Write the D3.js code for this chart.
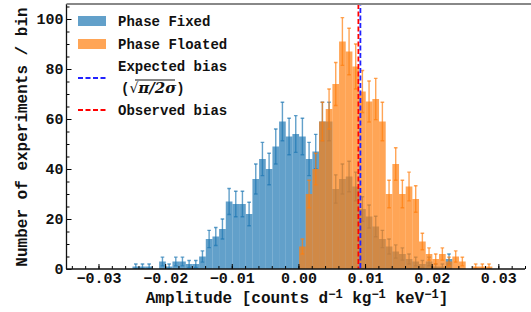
<!DOCTYPE html>
<html>
<head>
<meta charset="utf-8">
<script src="https://cdn.jsdelivr.net/npm/d3@7"></script>
<style>
  body { margin: 0; background: #fff; }
  text { font-family: "Liberation Mono", "DejaVu Sans Mono", monospace; font-weight: bold; fill: #111; }
</style>
</head>
<body>
<div id="chart"></div>
<script>
// histogram bins, width 0.001
var binWidth = 0.001;
var fixedStart = -0.0249;
var fixedCounts = [1, 1, 1, 0, 3, 1, 3, 3, 2, 2, 5, 12, 13, 16, 27, 26, 26, 22, 36, 44, 40, 49, 59, 53, 54,
    53, 44, 47, 59, 59, 32, 36, 37, 33, 24, 21, 17, 12, 9, 7, 6, 4, 3, 2, 3, 1, 1, 4];
var floatedStart = 0.0001;
var floatedCounts = [9, 30, 40, 59, 64, 74, 91, 87, 81, 71, 67, 68, 59, 30, 42, 30, 33, 28, 11, 6, 4, 6, 3, 5, 3,
    0, 1, 1, 1];

var expectedBias = 0.0093;
var observedBias = 0.0090;

var xTicks = [-0.03, -0.02, -0.01, 0.00, 0.01, 0.02, 0.03];
var yTicks = [0, 20, 40, 60, 80, 100];

var width = 531, height = 312;
var plotLeft = 66.5, plotRight = 525, plotTop = 4, plotBottom = 269;

var blue = "#1f77b4", orange = "#ff7f0e";

var svg = d3.select("#chart").append("svg")
    .attr("width", width)
    .attr("height", height);

var x = d3.scaleLinear().domain([-0.0348, 0.034]).range([plotLeft, plotRight]);
var y = d3.scaleLinear().domain([0, 106]).range([plotBottom, plotTop]);

svg.append("clipPath").attr("id", "plot")
    .append("rect").attr("x", plotLeft).attr("y", plotTop)
    .attr("width", plotRight - plotLeft).attr("height", plotBottom - plotTop);

var g = svg.append("g").attr("clip-path", "url(#plot)");

function hist(counts, start, color) {
    var bins = counts.map(function(c, i) {
        return { x0: start + i * binWidth, x1: start + (i + 1) * binWidth, n: c };
    }).filter(function(b) { return b.n > 0; });

    g.append("g").selectAll("rect")
        .data(bins).enter().append("rect")
        .attr("x", function(b) { return x(b.x0); })
        .attr("width", function(b) { return x(b.x1) - x(b.x0); })
        .attr("y", function(b) { return y(b.n); })
        .attr("height", function(b) { return y(0) - y(b.n); })
        .attr("fill", color)
        .attr("fill-opacity", 0.7);

    var eb = g.append("g")
        .attr("stroke", color)
        .attr("stroke-opacity", 0.7)
        .attr("stroke-width", 1.4);
    bins.forEach(function(b) {
        var cx = x((b.x0 + b.x1) / 2);
        var e = Math.sqrt(b.n);
        eb.append("line").attr("x1", cx).attr("x2", cx).attr("y1", y(b.n - e)).attr("y2", y(b.n + e));
        eb.append("line").attr("x1", cx - 1.8).attr("x2", cx + 1.8).attr("y1", y(b.n - e)).attr("y2", y(b.n - e));
        eb.append("line").attr("x1", cx - 1.8).attr("x2", cx + 1.8).attr("y1", y(b.n + e)).attr("y2", y(b.n + e));
    });
}

hist(fixedCounts, fixedStart, blue);
hist(floatedCounts, floatedStart, orange);

// bias lines
g.append("line")
    .attr("x1", x(observedBias)).attr("x2", x(observedBias))
    .attr("y1", plotTop).attr("y2", plotBottom)
    .attr("stroke", "#ff0000").attr("stroke-width", 1.8).attr("stroke-dasharray", "5,2.5");
g.append("line")
    .attr("x1", x(expectedBias)).attr("x2", x(expectedBias))
    .attr("y1", plotTop).attr("y2", plotBottom)
    .attr("stroke", "#2222ff").attr("stroke-width", 1.8).attr("stroke-dasharray", "5,2.5")
    .attr("stroke-dashoffset", 3.5);

// axes
var xMinor = d3.range(-0.034, 0.0341, 0.002).map(function(v) { return +v.toFixed(3); });
var yMinor = d3.range(0, 106, 5);

svg.append("g").attr("transform", "translate(0," + plotBottom + ")")
    .call(d3.axisBottom(x).tickValues(xMinor).tickSize(-3).tickFormat(""))
    .call(function(a) { a.select(".domain").remove(); });
var xa = svg.append("g").attr("transform", "translate(0," + plotBottom + ")")
    .call(d3.axisBottom(x).tickValues(xTicks).tickSize(-5).tickPadding(3)
        .tickFormat(function(d) { return d3.format(".2f")(d).replace("-", "\u2212"); }));
xa.selectAll("text").style("font-size", "15px").style("fill", "#111");
xa.select(".domain").remove();

svg.append("g").attr("transform", "translate(" + plotLeft + ",0)")
    .call(d3.axisLeft(y).tickValues(yMinor).tickSize(-3).tickFormat(""))
    .call(function(a) { a.select(".domain").remove(); });
var ya = svg.append("g").attr("transform", "translate(" + plotLeft + ",0)")
    .call(d3.axisLeft(y).tickValues(yTicks).tickSize(-5).tickPadding(3));
ya.selectAll("text").style("font-size", "15px").style("fill", "#111");
ya.select(".domain").remove();

// spines
svg.append("line").attr("x1", plotLeft).attr("x2", plotRight).attr("y1", plotBottom).attr("y2", plotBottom)
    .attr("stroke", "#111").attr("stroke-width", 1.3);
svg.append("line").attr("x1", plotLeft).attr("x2", plotLeft).attr("y1", plotTop).attr("y2", plotBottom)
    .attr("stroke", "#111").attr("stroke-width", 1.3);
svg.append("line").attr("x1", plotLeft).attr("x2", width).attr("y1", plotTop).attr("y2", plotTop)
    .attr("stroke", "#888").attr("stroke-width", 2);

// axis labels
var xl = svg.append("text")
    .attr("x", 297).attr("y", 303)
    .attr("text-anchor", "middle")
    .style("font-size", "16px");
xl.append("tspan").text("Amplitude [counts d");
xl.append("tspan").attr("dy", -5).style("font-size", "12px").text("\u22121");
xl.append("tspan").attr("dy", 5).text(" kg");
xl.append("tspan").attr("dy", -5).style("font-size", "12px").text("\u22121");
xl.append("tspan").attr("dy", 5).text(" keV");
xl.append("tspan").attr("dy", -5).style("font-size", "12px").text("\u22121");
xl.append("tspan").attr("dy", 5).text("]");

svg.append("text")
    .attr("transform", "translate(27,137) rotate(-90)")
    .attr("text-anchor", "middle")
    .style("font-size", "16px")
    .text("Number of experiments / bin");

// legend
var lg = svg.append("g").attr("transform", "translate(78,0)");
var lx = 40;
lg.append("rect").attr("x", 0).attr("y", 16).attr("width", 28).attr("height", 10)
    .attr("fill", blue).attr("fill-opacity", 0.7);
lg.append("text").attr("x", lx).attr("y", 26).style("font-size", "14px").text("Phase Fixed");
lg.append("rect").attr("x", 0).attr("y", 39).attr("width", 28).attr("height", 10)
    .attr("fill", orange).attr("fill-opacity", 0.7);
lg.append("text").attr("x", lx).attr("y", 49).style("font-size", "14px").text("Phase Floated");
lg.append("line").attr("x1", 0).attr("x2", 28).attr("y1", 78).attr("y2", 78)
    .attr("stroke", "#2222ff").attr("stroke-width", 1.8).attr("stroke-dasharray", "5,2.5");
lg.append("text").attr("x", lx).attr("y", 71).style("font-size", "14px").text("Expected bias");
var m = lg.append("text").attr("x", lx + 3).attr("y", 93).style("font-size", "14px");
m.append("tspan").text("(");
m.append("tspan").style("font-family", "DejaVu Sans").style("font-weight", "normal").text("\u221A");
m.append("tspan").style("font-family", "DejaVu Serif").style("font-style", "italic").style("font-size", "15px").text("\u03C0/2\u03C3");
m.append("tspan").text(")");
lg.append("line").attr("x1", 57).attr("x2", 97).attr("y1", 80).attr("y2", 80)
    .attr("stroke", "#111").attr("stroke-width", 1);
lg.append("line").attr("x1", 0).attr("x2", 28).attr("y1", 110).attr("y2", 110)
    .attr("stroke", "#ff0000").attr("stroke-width", 1.8).attr("stroke-dasharray", "5,2.5");
lg.append("text").attr("x", lx).attr("y", 115).style("font-size", "14px").text("Observed bias");
</script>
</body>
</html>
